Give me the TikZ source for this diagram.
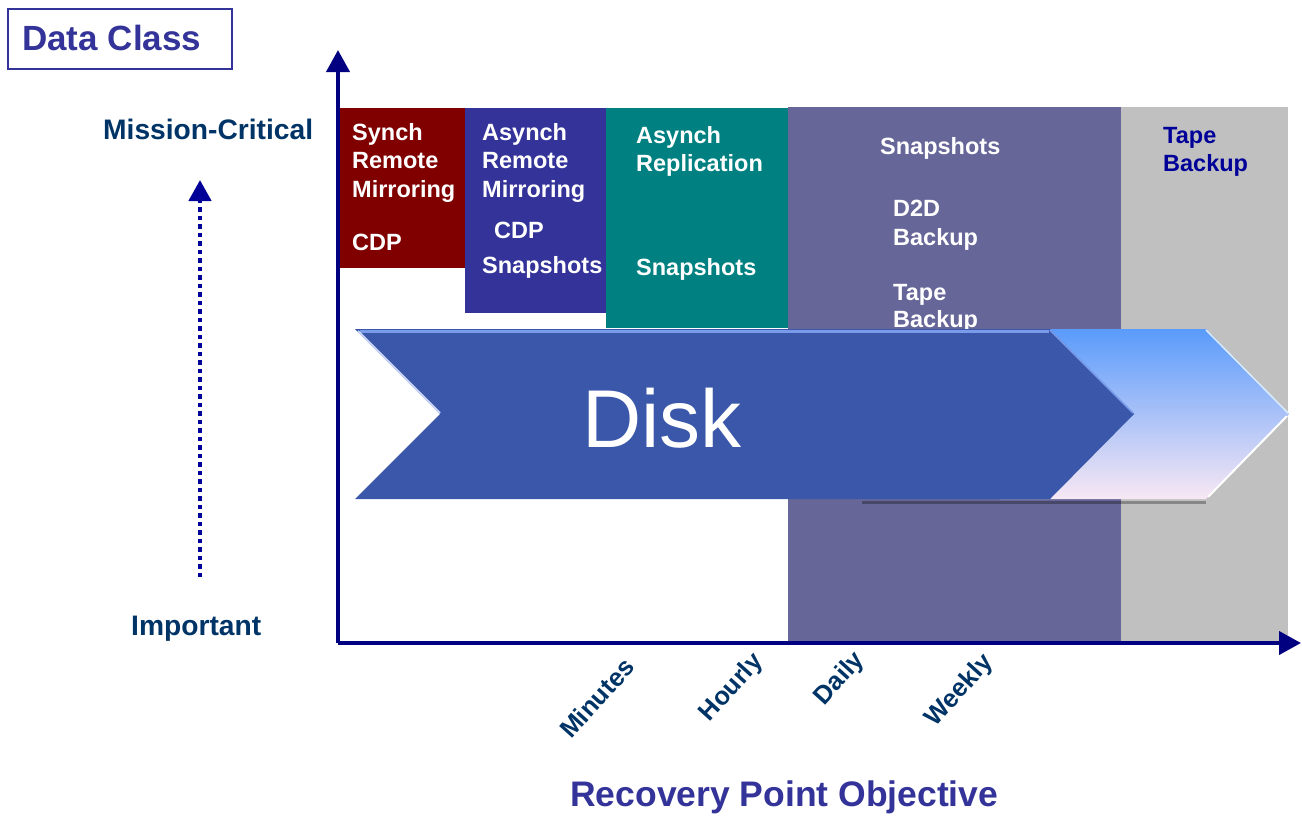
\documentclass[tikz,border=0pt]{standalone}
\usepackage{fontspec}
\setmainfont{Liberation Sans}
\usetikzlibrary{arrows.meta}
\definecolor{axisblue}{HTML}{000080}
\definecolor{labelblue}{HTML}{003366}
\definecolor{titleblue}{HTML}{333399}
\definecolor{boxred}{HTML}{800000}
\definecolor{boxblue}{HTML}{333399}
\definecolor{boxteal}{HTML}{008080}
\definecolor{boxpurple}{HTML}{666699}
\definecolor{boxgray}{HTML}{C0C0C0}
\definecolor{tapeblue}{HTML}{000099}
\definecolor{diskblue}{HTML}{3A57AA}
\definecolor{diskhi}{HTML}{7A9BEA}
\definecolor{lighttop}{HTML}{5A9BFB}
\definecolor{lightmid}{HTML}{80BEFA}
\definecolor{lightbot}{HTML}{F8E8F4}
\begin{document}
\begin{tikzpicture}[x=1pt,y=-1pt,
  boxtxt/.style={anchor=base west, inner sep=0pt, font=\fontsize{23.5}{28}\selectfont\bfseries, text=white},
  axlbl/.style={anchor=base west, inner sep=0pt, font=\fontsize{28.2}{33}\selectfont\bfseries, text=labelblue},
  ticklbl/.style={inner sep=0pt, font=\fontsize{25.5}{30}\selectfont\bfseries, text=labelblue, rotate=48},
  axisline/.style={draw=axisblue, line width=4pt, -{Triangle[width=23pt,length=22pt]}},
  dotline/.style={draw=tapeblue, line width=4.5pt, dash pattern=on 4.5pt off 4pt, -{Triangle[width=22pt,length=21pt]}}
]
\useasboundingbox (0,0) rectangle (1302,815);

% ---- coloured bands
\fill[boxred]    (338,108) rectangle (465,268);
\fill[boxblue]   (465,108) rectangle (606,313);
\fill[boxteal]   (606,108) rectangle (788,328);
\fill[boxpurple] (788,107) rectangle (1121,643);
\fill[boxgray]   (1121,107) rectangle (1288,643);

% ---- band texts
\node[boxtxt] (r1) at (352,140) {Synch};
\node[boxtxt] (r2) at (352,168.5) {Remote};
\node[boxtxt] (r3) at (352,197) {Mirroring};
\node[boxtxt] (r4) at (352,250) {CDP};

\node[boxtxt] (b1) at (482,140) {Asynch};
\node[boxtxt] (b2) at (482,168.5) {Remote};
\node[boxtxt] (b3) at (482,197) {Mirroring};
\node[boxtxt] (b4) at (494,238) {CDP};
\node[boxtxt] (b5) at (482,273) {Snapshots};

\node[boxtxt] (t1) at (636,143) {Asynch};
\node[boxtxt] (t2) at (636,171.5) {Replication};
\node[boxtxt] (t3) at (636,275) {Snapshots};

\node[boxtxt] (p1) at (880,154) {Snapshots};
\node[boxtxt] (p2) at (893,216.5) {D2D};
\node[boxtxt] (p3) at (893,245) {Backup};
\node[boxtxt] (p4) at (893,300) {Tape};
\node[boxtxt] (p5) at (893,327) {Backup};

\node[boxtxt, text=tapeblue] (g1) at (1163,143) {Tape};
\node[boxtxt, text=tapeblue] (g2) at (1163,171.5) {Backup};

% ---- Disk arrow (light one behind, blue one in front)
\draw[black, opacity=0.3, line width=3pt] (862,502) -- (1206,502);
\shade[top color=lighttop, middle color=lightmid, bottom color=lightbot]
  (1000,329) -- (1206,329) -- (1289,414) -- (1206,499) -- (1000,499) -- cycle;
\draw[white, line width=2pt] (1208,497) -- (1287,416);
\draw[white!70!lightmid, line width=1.5pt] (1206,330) -- (1288,413);
\fill[diskblue] (355,329) -- (1050,329) -- (1134,414) -- (1050,499) -- (355,499) -- (440,414) -- cycle;
\draw[diskhi, line width=3pt] (360,331.5) -- (1049,331.5);
\draw[white!60!diskhi, line width=2pt] (358,331) -- (440,413);
\draw[diskhi, line width=1.5pt] (1050,330) -- (1133,413);
\node[anchor=base, inner sep=0pt, text=white, font=\fontsize{82}{90}\selectfont] (disk) at (662,447) {Disk};

% ---- axes
\coordinate (O) at (338,643);
\coordinate (ytop) at (338,50);
\coordinate (xend) at (1301,643);
\draw[axisline] (O) -- (ytop);
\draw[axisline] (O) -- (xend);

% ---- data class title
\draw[titleblue, line width=1.5pt] (8,9) rectangle (232,69);
\node[anchor=base west, inner sep=0pt, text=titleblue, font=\fontsize{35}{40}\selectfont\bfseries] (dc) at (22,50) {Data Class};

% ---- vertical scale
\node[axlbl] (mc) at (103,139) {Mission-Critical};
\node[axlbl] (imp) at (131,635) {Important};
\coordinate (dotbot) at (200,577);
\coordinate (dottop) at (200,180);
\draw[dotline] (dotbot) -- (dottop);

% ---- tick labels
\node[ticklbl] (min) at (597,698) {Minutes};
\node[ticklbl] (hr)  at (732,688) {Hourly};
\node[ticklbl] (dy)  at (840,679) {Daily};
\node[ticklbl] (wk)  at (960,691) {Weekly};

% ---- x title
\node[anchor=base west, inner sep=0pt, text=titleblue, font=\fontsize{35.5}{40}\selectfont\bfseries] (rpo) at (570,806) {Recovery Point Objective};
\end{tikzpicture}
\end{document}
